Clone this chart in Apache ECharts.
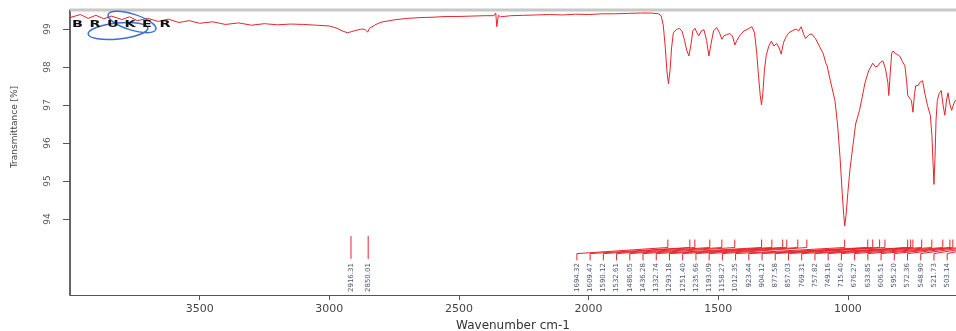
<!DOCTYPE html>
<html>
<head>
<meta charset="utf-8">
<script src="https://cdn.jsdelivr.net/npm/echarts@6/dist/echarts.min.js"></script>
<style>
  html, body { margin: 0; padding: 0; background: #fff; }
  #main { width: 956px; height: 331px; }
</style>
</head>
<body>
<div id="main"></div>
<script>
// spectrum (cm-1 / %T)
var wavenumbers = [
  4000, 3960, 3930, 3900, 3870, 3840, 3800, 3770, 3740, 3700, 3660, 3620, 3580, 3540, 3500,
  3450, 3400, 3350, 3300, 3250, 3200, 3150, 3100, 3050, 3000, 2970, 2950, 2930, 2915, 2900,
  2880, 2870, 2860, 2852, 2845, 2820, 2800, 2750, 2700, 2650, 2600, 2550, 2500, 2450, 2400,
  2365, 2358, 2354, 2348, 2340, 2300, 2250, 2200, 2150, 2100, 2050, 2000, 1950, 1900, 1850,
  1800, 1760, 1730, 1720, 1712, 1704, 1698, 1692, 1686, 1680, 1673, 1662, 1650, 1640, 1630,
  1622, 1613, 1605, 1598, 1590, 1582, 1575, 1565, 1555, 1545, 1536, 1528, 1518, 1506, 1495,
  1486, 1478, 1468, 1456, 1445, 1436, 1428, 1415, 1400, 1385, 1370, 1360, 1352, 1345, 1338,
  1333, 1328, 1322, 1315, 1305, 1295, 1285, 1275, 1265, 1257, 1248, 1238, 1228, 1215, 1200,
  1190, 1180, 1170, 1163, 1150, 1140, 1125, 1110, 1095, 1085, 1080, 1068, 1050, 1040, 1030,
  1022, 1016, 1012, 1007, 1000, 992, 982, 970, 955, 945, 934, 920, 904, 893, 884,
  875, 865, 855, 850, 846, 842, 837, 831, 826, 815, 800, 790, 780, 773, 769,
  762, 755, 749, 743, 738, 730, 722, 712, 703, 693, 682, 676, 671, 668, 664,
  660, 655, 648, 640, 633, 626, 620, 614, 606, 600, 595, 588, 583
];
var transmittance = [
  99.30, 99.38, 99.28, 99.36, 99.27, 99.34, 99.25, 99.32, 99.22, 99.28, 99.20, 99.26, 99.17, 99.22, 99.15,
  99.19, 99.12, 99.16, 99.10, 99.14, 99.11, 99.13, 99.12, 99.10, 99.08, 99.02, 98.95, 98.90, 98.93, 98.96,
  98.99, 99.00, 98.97, 98.92, 99.02, 99.12, 99.18, 99.24, 99.28, 99.30, 99.31, 99.33, 99.33, 99.34, 99.35,
  99.35, 99.42, 99.06, 99.36, 99.32, 99.35, 99.36, 99.37, 99.38, 99.37, 99.39, 99.38, 99.40, 99.40, 99.41,
  99.42, 99.42, 99.40, 99.35, 99.10, 98.50, 97.90, 97.56, 97.90, 98.50, 98.90, 98.98, 99.02, 98.95, 98.70,
  98.45, 98.29, 98.60, 98.95, 99.02, 98.90, 98.82, 98.95, 98.98, 98.70, 98.29, 98.60, 98.95, 99.04, 98.90,
  98.73, 98.82, 98.85, 98.88, 98.82, 98.58, 98.70, 98.85, 98.95, 99.00, 99.06, 98.90, 98.40, 97.80, 97.25,
  97.00, 97.30, 97.90, 98.30, 98.55, 98.68, 98.55, 98.62, 98.50, 98.34, 98.65, 98.80, 98.90, 98.95, 99.00,
  98.95, 99.06, 98.85, 98.75, 98.85, 98.87, 98.75, 98.55, 98.35, 98.10, 98.03, 97.65, 97.12, 96.50, 95.60,
  94.70, 94.10, 93.82, 94.10, 94.70, 95.30, 95.85, 96.50, 96.86, 97.20, 97.58, 97.90, 98.10, 98.00, 98.03,
  98.12, 98.16, 97.95, 97.90, 97.60, 97.25, 97.80, 98.36, 98.42, 98.35, 98.29, 98.15, 98.03, 97.60, 97.25,
  97.30, 97.12, 96.81, 97.30, 97.51, 97.51, 97.60, 97.64, 97.30, 96.99, 96.73, 96.20, 95.40, 94.91, 95.60,
  96.60, 97.12, 97.30, 97.38, 97.00, 96.73, 97.10, 97.32, 97.00, 96.86, 96.86, 97.10, 97.12
];

// picked peaks (labels)
var peaksLeft = [2916.31, 2850.01];
var peaksRight = [
  1694.32, 1609.47, 1590.12, 1532.61, 1486.05, 1436.28, 1332.74, 1293.18, 1251.40, 1235.66,
  1193.09, 1158.27, 1012.35, 923.44, 904.12, 877.58, 857.03, 769.31, 757.82, 749.16,
  715.40, 676.27, 633.85, 606.51, 595.20, 572.36, 548.90, 521.73, 503.14
];

var xTicks = [1000, 1500, 2000, 2500, 3000, 3500];
var yTicks = [94, 95, 96, 97, 98, 99];

var labelStart = 2045;   // first label slot, cm-1
var labelStep = 51;      // slot spacing, cm-1

var spectrum = wavenumbers.map(function (w, i) { return [w, transmittance[i]]; });
var peakData = peaksLeft.map(function (w) { return [w, w, 0]; })
  .concat(peaksRight.map(function (w, k) { return [w, labelStart - k * labelStep, 1]; }));

var FONT = 'DejaVu Sans, Liberation Sans, sans-serif';

function renderPeak(params, api) {
  var w = api.value(0), slot = api.value(1), grouped = api.value(2);
  var pts, top;
  if (grouped) {
    pts = [api.coord([w, 93.46]), api.coord([w, 93.25]), api.coord([slot, 93.09]), api.coord([slot, 92.91])];
  } else {
    pts = [api.coord([w, 93.55]), api.coord([w, 92.95])];
  }
  top = api.coord([slot, 92.84]);
  return {
    type: 'group',
    children: [
      { type: 'polyline', shape: { points: pts }, style: { stroke: '#e8242c', lineWidth: 1, fill: null } },
      {
        type: 'text', x: top[0], y: top[1], rotation: Math.PI / 2,
        style: {
          text: w.toFixed(2), fill: '#4d5870', font: '7px ' + FONT,
          align: 'right', verticalAlign: 'middle'
        }
      }
    ]
  };
}

var logo = ['B', 'R', 'U', 'K', 'E', 'R'].map(function (c, i) {
  return { type: 'text', x: 72 + i * 17.5, y: 21, scaleX: 1.8, z: 10,
    style: { text: c, font: '900 8px ' + FONT, fill: '#111' } };
});

var chart = echarts.init(document.getElementById('main'));
chart.setOption({
  animation: false,
  grid: { left: 70, top: 10, right: 0, height: 285, outerBoundsMode: 'none' },
  xAxis: {
    type: 'value', min: 583, max: 4000, inverse: true,
    name: 'Wavenumber cm-1', nameLocation: 'middle', nameGap: 23,
    nameTextStyle: { fontSize: 12, color: '#333', fontFamily: FONT },
    axisLine: { lineStyle: { color: '#555', width: 1 } },
    axisTick: { customValues: xTicks, length: 5, lineStyle: { color: '#555' } },
    axisLabel: { customValues: xTicks, formatter: function (v) { return String(v); },
      fontSize: 11, color: '#444', margin: 9, fontFamily: FONT },
    splitLine: { show: false }
  },
  yAxis: {
    type: 'value', min: 92, max: 99.5,
    axisLine: { show: true, lineStyle: { color: '#333', width: 1.5 } },
    axisTick: { show: true, customValues: yTicks, length: 7, lineStyle: { color: '#555' } },
    axisLabel: { customValues: yTicks, rotate: 90, fontSize: 9, color: '#555', margin: 18, fontFamily: FONT },
    splitLine: { show: false }
  },
  graphic: [
    { type: 'line', z: 1, shape: { x1: 70, y1: 10, x2: 956, y2: 10 }, style: { stroke: '#c8c8c8', lineWidth: 3 } },
    { type: 'text', x: 15, y: 127, rotation: Math.PI / 2,
      style: { text: 'Transmittance [%]', font: '9px ' + FONT, fill: '#444', align: 'center', verticalAlign: 'middle' } },
    { type: 'ellipse', z: 9, shape: { cx: 118, cy: 31, rx: 30, ry: 8 }, rotation: 0.1, originX: 118, originY: 31,
      style: { stroke: '#3b6fd0', lineWidth: 1.5, fill: null } },
    { type: 'ellipse', z: 9, shape: { cx: 132, cy: 22, rx: 25, ry: 8 }, rotation: -0.3, originX: 132, originY: 22,
      style: { stroke: '#3b6fd0', lineWidth: 1.5, fill: null } }
  ].concat(logo),
  series: [
    {
      type: 'line', data: spectrum, showSymbol: false, z: 3,
      lineStyle: { color: '#e8242c', width: 1 }
    },
    {
      type: 'custom', data: peakData, renderItem: renderPeak, z: 3
    }
  ]
});
</script>
</body>
</html>
